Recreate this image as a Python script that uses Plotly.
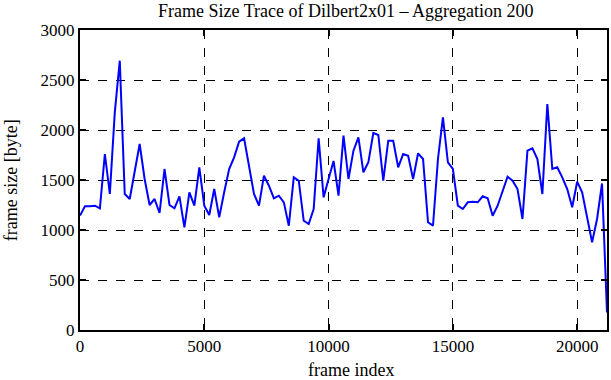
import plotly.graph_objects as go

frames = list(range(0, 21001, 200)) + [21200]
frame_size = [
    1145, 1237, 1237, 1243, 1217, 1760, 1360, 2177, 2693, 1360,
    1310, 1577, 1860, 1510, 1250, 1310, 1170, 1610, 1250, 1217,
    1337, 1027, 1377, 1243, 1627, 1243, 1150, 1410, 1127, 1377,
    1610, 1727, 1883, 1917, 1643, 1360, 1243, 1543, 1443, 1317,
    1343, 1277, 1043, 1527, 1493, 1093, 1060, 1210, 1917, 1327,
    1510, 1690, 1343, 1943, 1510, 1793, 1927, 1577, 1677, 1970,
    1950, 1493, 1893, 1893, 1627, 1760, 1743, 1510, 1767, 1710,
    1077, 1043, 1710, 2127, 1677, 1610, 1243, 1210, 1277, 1283,
    1277, 1337, 1317, 1143, 1243, 1393, 1533, 1493, 1410, 1110,
    1793, 1817, 1710, 1360, 2260, 1610, 1627, 1527, 1410, 1227,
    1483, 1377, 1110, 877, 1110, 1465, 175,
]
x_ticks = [0, 5000, 10000, 15000, 20000]
y_ticks = [0, 500, 1000, 1500, 2000, 2500, 3000]

title_text = "Frame Size Trace of Dilbert2x01 \u2013 Aggregation 200"
x_title = "frame index"
y_title = "frame size [byte]"

FONT = "Liberation Serif"

fig = go.Figure()
fig.add_trace(go.Scatter(
    x=frames, y=frame_size, mode="lines",
    line=dict(color="#0000ff", width=2),
    showlegend=False,
))

axis_common = dict(
    showline=True, linecolor="black", linewidth=2, mirror="ticks",
    ticks="inside", ticklen=6, tickwidth=1.5, tickcolor="black",
    showgrid=True, gridcolor="black", griddash="dash", gridwidth=1,
    zeroline=False,
    tickfont=dict(family=FONT, size=17, color="black"),
)

fig.update_xaxes(range=[0, 21200], tickvals=x_ticks,
                 ticktext=[str(v) for v in x_ticks], **axis_common)
fig.update_yaxes(range=[0, 3000], tickvals=y_ticks,
                 ticktext=[str(v) for v in y_ticks], **axis_common)

fig.update_layout(
    width=611, height=380,
    margin=dict(l=80, r=2, t=30, b=50, pad=0),
    paper_bgcolor="white", plot_bgcolor="white",
    font=dict(family=FONT, size=16, color="black"),
)
fig.add_annotation(text=title_text, xref="paper", yref="paper",
                   x=(347 - 80) / 529, y=1 + (30 - 11) / 300,
                   showarrow=False, xanchor="center", yanchor="middle",
                   font=dict(family=FONT, size=18, color="black"))
fig.add_annotation(text=x_title, xref="paper", yref="paper",
                   x=(352 - 80) / 529, y=-(370 - 330) / 300,
                   showarrow=False, xanchor="center", yanchor="middle",
                   font=dict(family=FONT, size=18, color="black"))
fig.add_annotation(text=y_title, xref="paper", yref="paper",
                   x=-(80 - 11) / 529, y=(330 - 180) / 300, textangle=-90,
                   showarrow=False, xanchor="center", yanchor="middle",
                   font=dict(family=FONT, size=18, color="black"))

fig.write_html("out.html", config={"displayModeBar": False},
               post_script="document.body.style.margin='0';document.body.style.padding='0';")
